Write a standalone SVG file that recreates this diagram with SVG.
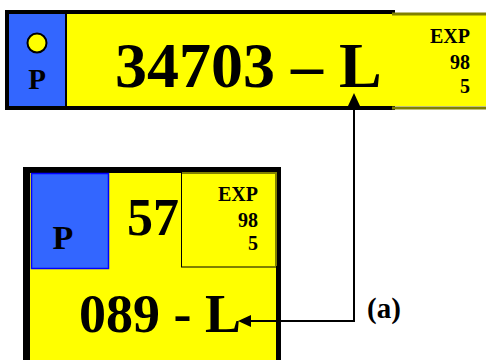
<svg xmlns="http://www.w3.org/2000/svg" width="486" height="360" viewBox="0 0 486 360">
<defs>
<style>
.t{font-family:"Liberation Serif","Times New Roman",serif;font-weight:bold;fill:#000}
.y{fill:#ffff00}
.b{fill:#3366ff}
.ln{fill:none;stroke:#000;stroke-width:2}
</style>
<marker id="ah" markerUnits="userSpaceOnUse" markerWidth="13" markerHeight="12" refX="0" refY="6" viewBox="0 0 13 12" orient="auto-start-reverse">
<path d="M0,0 L13,6 L0,12 z" fill="#000"/>
</marker>
</defs>
<rect width="486" height="360" fill="#fff"/>
<g id="plate-top">
<rect x="5" y="10" width="390" height="100" fill="#000"/>
<rect class="b" x="9" y="14" width="56" height="92"/>
<rect class="y" x="67" y="14" width="420" height="92"/>
<path d="M392,14 H486 M392,108 H486" fill="none" stroke="#808000" stroke-width="3"/>
<circle cx="37" cy="43" r="9.5" fill="#ffff00" stroke="#000" stroke-width="2"/>
<text class="t" x="37" y="89" font-size="29" text-anchor="middle">P</text>
<text class="t" x="115" y="87" font-size="64">34703 – L</text>
<text class="t" x="470" y="43" font-size="20" text-anchor="end">EXP</text>
<text class="t" x="470" y="69" font-size="20" text-anchor="end">98</text>
<text class="t" x="470" y="93" font-size="20" text-anchor="end">5</text>
</g>
<g id="plate-bottom">
<rect x="23" y="167" width="258" height="200" fill="#000"/>
<rect class="y" x="30" y="173" width="246" height="190"/>
<rect x="31.5" y="173.5" width="77" height="95" fill="#3366ff" stroke="#0000ff" stroke-width="1.5"/>
<rect x="181.5" y="172.5" width="95" height="94.5" fill="#ffff00" stroke="#000" stroke-width="1"/>
<path d="M182,173 H276 V266" fill="none" stroke="#808000" stroke-width="2"/>
<text class="t" x="63" y="249" font-size="34" text-anchor="middle">P</text>
<text class="t" x="127" y="235" font-size="52">57</text>
<text class="t" x="258" y="201" font-size="20" text-anchor="end">EXP</text>
<text class="t" x="258" y="227" font-size="20" text-anchor="end">98</text>
<text class="t" x="258" y="250" font-size="20" text-anchor="end">5</text>
<text class="t" x="79" y="332" font-size="54">089 - L</text>
</g>
<g id="connectors">
<path class="ln" d="M354,106 V321 H251" marker-start="url(#ah)" marker-end="url(#ah)"/>
<text class="t" x="367" y="318" font-size="29">(a)</text>
</g>
</svg>
